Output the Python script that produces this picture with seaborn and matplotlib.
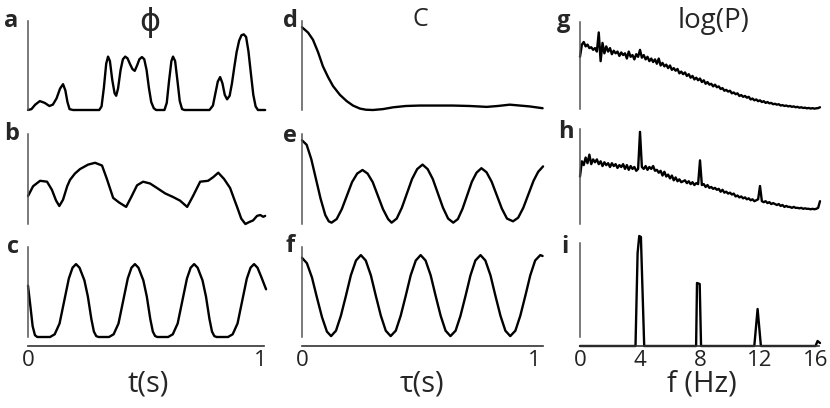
import numpy as np
import matplotlib
matplotlib.use("Agg")
import matplotlib.pyplot as plt
import matplotlib.transforms as mtransforms
import seaborn as sns

# --- phase traces (column 1) ---
t_a = [0, 0.015, 0.031, 0.051, 0.072, 0.092, 0.107, 0.123, 0.138, 0.151, 0.161, 0.170, 0.179, 0.194,
       0.307, 0.317, 0.327, 0.337, 0.345, 0.353, 0.363, 0.373, 0.380, 0.388, 0.399, 0.409, 0.419, 0.429,
       0.439, 0.450, 0.460, 0.470, 0.480, 0.491, 0.501, 0.511, 0.521, 0.531, 0.542, 0.552, 0.588, 0.598,
       0.608, 0.618, 0.625, 0.634, 0.644, 0.654, 0.664, 0.675, 0.782, 0.797, 0.807, 0.818, 0.828, 0.838,
       0.848, 0.858, 0.869, 0.879, 0.889, 0.899, 0.910, 0.920, 0.930, 0.940, 0.950, 0.961, 0.971, 0.981,
       0.991, 1.022]
phi_a = [0, 0.01, 0.06, 0.10, 0.08, 0.045, 0.06, 0.13, 0.24, 0.29, 0.22, 0.09, 0.01, 0,
         0, 0.04, 0.25, 0.52, 0.60, 0.55, 0.34, 0.19, 0.16, 0.24, 0.45, 0.57, 0.60, 0.58,
         0.52, 0.46, 0.44, 0.50, 0.57, 0.595, 0.57, 0.45, 0.25, 0.09, 0.02, 0, 0, 0.08,
         0.33, 0.55, 0.60, 0.55, 0.33, 0.10, 0.01, 0, 0, 0.05, 0.18, 0.32, 0.37, 0.30,
         0.17, 0.12, 0.16, 0.30, 0.48, 0.65, 0.78, 0.84, 0.85, 0.82, 0.66, 0.40, 0.17, 0.04,
         0, 0]

t_b = [0, 0.022, 0.052, 0.082, 0.103, 0.121, 0.135, 0.151, 0.169, 0.181, 0.202, 0.224, 0.259, 0.289,
       0.319, 0.340, 0.367, 0.392, 0.423, 0.445, 0.470, 0.496, 0.526, 0.556, 0.591, 0.625, 0.655, 0.686,
       0.711, 0.742, 0.776, 0.798, 0.820, 0.845, 0.871, 0.888, 0.901, 0.919, 0.937, 0.952, 0.970, 0.987,
       1.001, 1.014, 1.022]
phi_b = [0.31, 0.42, 0.48, 0.47, 0.38, 0.26, 0.20, 0.27, 0.42, 0.49, 0.56, 0.61, 0.66, 0.68,
         0.65, 0.50, 0.29, 0.24, 0.19, 0.30, 0.43, 0.47, 0.45, 0.40, 0.34, 0.30, 0.26, 0.19,
         0.31, 0.47, 0.48, 0.52, 0.57, 0.50, 0.40, 0.28, 0.19, 0.06, 0.0, 0.02, 0.04, 0.09,
         0.10, 0.08, 0.09]

t_c = [0, 0.01, 0.02, 0.03, 0.04, 0.095, 0.115, 0.136, 0.156, 0.176, 0.192, 0.207, 0.222, 0.243,
       0.258, 0.273, 0.284, 0.294, 0.304, 0.349, 0.369, 0.390, 0.410, 0.430, 0.446, 0.461, 0.476,
       0.497, 0.512, 0.527, 0.538, 0.548, 0.558, 0.604, 0.624, 0.645, 0.665, 0.685, 0.701, 0.716,
       0.731, 0.752, 0.767, 0.782, 0.793, 0.803, 0.813, 0.862, 0.882, 0.903, 0.923, 0.943, 0.959,
       0.974, 0.989, 1.005, 1.026]
phi_c = [0.57, 0.35, 0.12, 0.02, 0, 0, 0.03, 0.15, 0.40, 0.65, 0.77, 0.81, 0.77, 0.63,
         0.45, 0.20, 0.06, 0.01, 0, 0, 0.03, 0.15, 0.40, 0.65, 0.77, 0.81, 0.77,
         0.63, 0.45, 0.20, 0.06, 0.01, 0, 0, 0.03, 0.15, 0.40, 0.65, 0.77, 0.81,
         0.77, 0.63, 0.45, 0.20, 0.06, 0.01, 0, 0, 0.03, 0.15, 0.40, 0.65, 0.77,
         0.81, 0.77, 0.67, 0.53]

# --- autocorrelations (column 2) ---
tau_d = [0, 0.026, 0.047, 0.069, 0.09, 0.112, 0.133, 0.163, 0.192, 0.219, 0.249, 0.275, 0.305,
         0.348, 0.391, 0.446, 0.506, 0.579, 0.648, 0.721, 0.794, 0.841, 0.893, 0.936, 0.979, 1.034]
c_d = [0.93, 0.87, 0.79, 0.65, 0.49, 0.37, 0.27, 0.17, 0.10, 0.05, 0.016, 0.003, 0,
       0.01, 0.03, 0.045, 0.05, 0.05, 0.05, 0.045, 0.035, 0.045, 0.06, 0.05, 0.04, 0.02]

tau_e = [0, 0.02, 0.04, 0.06, 0.08, 0.10, 0.115, 0.127, 0.149, 0.171, 0.193, 0.215, 0.237, 0.260,
         0.282, 0.304, 0.326, 0.348, 0.370, 0.385, 0.407, 0.429, 0.451, 0.473, 0.495, 0.518, 0.540,
         0.562, 0.584, 0.606, 0.628, 0.650, 0.670, 0.690, 0.710, 0.730, 0.750, 0.771, 0.793, 0.815,
         0.837, 0.859, 0.881, 0.907, 0.929, 0.951, 0.973, 0.995, 1.015, 1.036]
c_e = [0.93, 0.88, 0.72, 0.50, 0.28, 0.10, 0.03, 0.015, 0.055, 0.165, 0.315, 0.465, 0.56, 0.60,
       0.56, 0.465, 0.315, 0.165, 0.055, 0.015, 0.06, 0.18, 0.34, 0.50, 0.61, 0.66, 0.61,
       0.50, 0.34, 0.18, 0.06, 0.015, 0.055, 0.17, 0.32, 0.47, 0.57, 0.62, 0.575, 0.47,
       0.32, 0.17, 0.06, 0.03, 0.07, 0.18, 0.33, 0.48, 0.58, 0.64]

tau_f = [0.000, 0.021, 0.043, 0.064, 0.086, 0.107, 0.125, 0.146, 0.167, 0.189, 0.210, 0.232, 0.253,
         0.274, 0.296, 0.317, 0.339, 0.360, 0.381, 0.403, 0.424, 0.446, 0.467, 0.489, 0.510, 0.531,
         0.553, 0.574, 0.596, 0.617, 0.638, 0.660, 0.681, 0.703, 0.724, 0.745, 0.767, 0.788, 0.810,
         0.831, 0.853, 0.874, 0.895, 0.917, 0.938, 0.960, 0.981, 1.002, 1.024, 1.034]
c_f = [0.88, 0.82, 0.66, 0.44, 0.22, 0.06, 0.01, 0.07, 0.235, 0.46, 0.685, 0.85, 0.91,
       0.85, 0.685, 0.46, 0.235, 0.07, 0.01, 0.07, 0.235, 0.46, 0.685, 0.85, 0.91, 0.85,
       0.685, 0.46, 0.235, 0.07, 0.01, 0.07, 0.235, 0.46, 0.685, 0.85, 0.91, 0.85, 0.685,
       0.46, 0.235, 0.07, 0.01, 0.07, 0.235, 0.46, 0.685, 0.85, 0.91, 0.90]

# --- log power spectra (column 3), 0.125 Hz bins ---
freq = np.arange(0, 16.001, 0.125)
logp_g = [0.60, 0.74, 0.77, 0.72, 0.74, 0.70, 0.71, 0.68,
          0.70, 0.66, 0.88, 0.55, 0.76, 0.64, 0.72, 0.66,
          0.70, 0.63, 0.67, 0.64, 0.66, 0.61, 0.65, 0.62,
          0.64, 0.58, 0.66, 0.60, 0.62, 0.57, 0.63, 0.60,
          0.68, 0.59, 0.62, 0.57, 0.60, 0.55, 0.58, 0.54,
          0.57, 0.52, 0.58, 0.50, 0.53, 0.49, 0.51, 0.47,
          0.50, 0.45, 0.47, 0.44, 0.46, 0.41, 0.43, 0.40,
          0.42, 0.38, 0.40, 0.36, 0.38, 0.34, 0.36, 0.33,
          0.35, 0.31, 0.33, 0.29, 0.31, 0.28, 0.29, 0.26,
          0.28, 0.25, 0.26, 0.23, 0.24, 0.21, 0.22, 0.20,
          0.21, 0.18, 0.19, 0.17, 0.18, 0.15, 0.16, 0.14,
          0.15, 0.13, 0.14, 0.11, 0.12, 0.10, 0.11, 0.09,
          0.10, 0.08, 0.09, 0.07, 0.08, 0.065, 0.07, 0.055,
          0.06, 0.05, 0.055, 0.04, 0.045, 0.035, 0.04, 0.03,
          0.035, 0.025, 0.03, 0.02, 0.025, 0.015, 0.02, 0.012,
          0.015, 0.008, 0.012, 0.005, 0.01, 0.004, 0.008, 0.01,
          0.02]
logp_h = [0.50, 0.66, 0.62, 0.70, 0.64, 0.73, 0.63, 0.68,
          0.65, 0.68, 0.63, 0.66, 0.61, 0.65, 0.62, 0.64,
          0.60, 0.64, 0.61, 0.63, 0.59, 0.62, 0.60, 0.63,
          0.58, 0.62, 0.57, 0.61, 0.58, 0.60, 0.56, 0.58,
          0.97, 0.60, 0.58, 0.61, 0.57, 0.60, 0.58, 0.61,
          0.56, 0.57, 0.54, 0.56, 0.51, 0.55, 0.50, 0.52,
          0.48, 0.51, 0.46, 0.49, 0.45, 0.47, 0.44, 0.45,
          0.46, 0.43, 0.45, 0.42, 0.44, 0.41, 0.43, 0.42,
          0.67, 0.41, 0.42, 0.39, 0.41, 0.38, 0.39, 0.37,
          0.38, 0.36, 0.37, 0.34, 0.36, 0.33, 0.34, 0.32,
          0.33, 0.31, 0.32, 0.29, 0.30, 0.28, 0.29, 0.27,
          0.28, 0.26, 0.27, 0.25, 0.26, 0.24, 0.25, 0.26,
          0.40, 0.24, 0.23, 0.24, 0.22, 0.23, 0.21, 0.22,
          0.21, 0.20, 0.21, 0.19, 0.20, 0.18, 0.19, 0.18,
          0.18, 0.17, 0.18, 0.17, 0.17, 0.165, 0.17, 0.16,
          0.165, 0.16, 0.16, 0.155, 0.16, 0.155, 0.16, 0.17,
          0.24]
freq_i = [0, 3.70, 3.84, 3.95, 4.06, 4.28, 7.74, 7.80, 7.98, 8.07, 11.62, 11.84, 12.06, 15.70, 15.84, 16.0]
logp_i = [0, 0, 0.93, 1.10, 1.09, 0, 0, 0.63, 0.62, 0, 0, 0.37, 0, 0, 0.05, 0.03]

sns.set_style("white")
plt.rcParams['font.family'] = ['Open Sans', 'DejaVu Sans']

W, H = 830, 408
fig = plt.figure(figsize=(W / 100, H / 100), dpi=100)


def box(left, top, right, bottom):
    return [left / W, 1 - bottom / H, (right - left) / W, (bottom - top) / H]


def panel(rect, x, y, xlim, ylim, bottom=False, ybounds=None, xbounds=None, xticks=None):
    ax = fig.add_axes(rect)
    sns.lineplot(x=np.asarray(x, float), y=np.asarray(y, float), ax=ax, color='black',
                 lw=1.7, clip_on=False)
    ax.set_xlim(*xlim)
    ax.set_ylim(*ylim)
    sns.despine(ax=ax, bottom=not bottom)
    ax.spines['left'].set_color('#555555')
    ax.spines['left'].set_linewidth(1.1)
    if ybounds:
        ax.spines['left'].set_bounds(*ybounds)
    ax.set_yticks([])
    ax.set_xlabel('')
    ax.set_ylabel('')
    if bottom:
        ax.spines['bottom'].set_color('#333333')
        ax.spines['bottom'].set_linewidth(1.2)
        ax.spines['bottom'].set_bounds(*xbounds)
        ax.set_xticks(xticks)
        ax.set_xticklabels([str(v) for v in xticks])
        ax.tick_params(axis='x', length=0, labelsize=16, pad=3, colors='#222222')
    else:
        ax.set_xticks([])
    ax.patch.set_alpha(0)
    return ax


# column 1
panel(box(28, 21, 267, 110), t_a, phi_a, (0, 1.03), (0, 1))
panel(box(28, 134, 267, 224), t_b, phi_b, (0, 1.03), (0, 1))
panel(box(28, 247, 267, 346), t_c, phi_c, (0, 1.03), (-0.1, 1), bottom=True,
      ybounds=(0, 1), xbounds=(0, 1.015), xticks=[0, 1])
# column 2
panel(box(302, 21, 544, 110), tau_d, c_d, (0, 1.04), (0, 1))
panel(box(302, 134, 544, 224), tau_e, c_e, (0, 1.04), (0, 1))
panel(box(302, 247, 544, 346), tau_f, c_f, (0, 1.04), (-0.1, 1), bottom=True,
      ybounds=(0, 1), xbounds=(0, 1.035), xticks=[0, 1])
# column 3 (15 px per Hz)
panel(box(580, 22, 821.5, 109), freq, logp_g, (0, 16.1), (0, 1))
panel(box(580, 129, 821.5, 224), freq, logp_h, (0, 16.1), (0, 1))
ax_i = panel(box(580, 236, 821.5, 346), freq_i, logp_i, (0, 16.1), (0, 1.1), bottom=True,
             ybounds=(0.093, 1.033), xbounds=(0, 15.9), xticks=[0, 4, 8, 12, 16])
# nudge the last label so it stays inside the figure
last = ax_i.get_xticklabels()[-1]
last.set_transform(last.get_transform()
                   + mtransforms.ScaledTranslation(-4 / 100, 0, fig.dpi_scale_trans))


def ftext(x, y, s, **kw):
    fig.text(x / W, 1 - y / H, s, **kw)


# panel letters
for s, x, y in [('a', 4, 27), ('b', 4, 140), ('c', 7, 253),
                ('d', 283, 27), ('e', 283, 142), ('f', 285, 252),
                ('g', 557, 27), ('h', 558, 138), ('i', 561, 253)]:
    ftext(x, y, s, fontsize=17, fontweight='bold', va='baseline', ha='left')

# column titles
ftext(150, 23, 'ϕ', fontsize=23, ha='center', va='center', family=['DejaVu Sans'])
ftext(420, 20, 'C', fontsize=18, ha='center', va='center')
ftext(714, 21, 'log(P)', fontsize=20, ha='center', va='center')

# axis labels
ftext(148, 384, 't(s)', fontsize=21, ha='center', va='center')
ftext(422, 384, 'τ(s)', fontsize=21, ha='center', va='center')
ftext(702, 384, 'f (Hz)', fontsize=21, ha='center', va='center')

fig.savefig('out.png', dpi=100)
